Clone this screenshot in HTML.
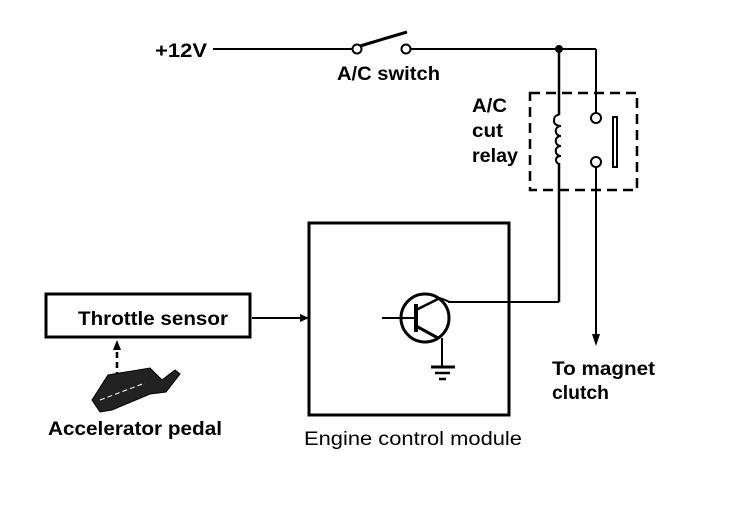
<!DOCTYPE html>
<html><head><style>
html,body{margin:0;padding:0;background:#fff;}
svg{display:block}
text{font-family:"Liberation Sans",sans-serif;fill:#000;}
.b{font-weight:bold}
</style></head><body>
<svg width="736" height="518" viewBox="0 0 736 518">
<g stroke="#000" fill="none" stroke-width="2">
<line x1="213" y1="49" x2="353" y2="49"/>
<circle cx="357" cy="49" r="4.5"/>
<line x1="360" y1="46" x2="407" y2="32" stroke-width="3"/>
<circle cx="406" cy="49" r="4.5"/>
<line x1="411" y1="49" x2="596" y2="49"/>
<line x1="596" y1="49" x2="596" y2="112"/>
<circle cx="596" cy="118" r="5"/>
<circle cx="596" cy="162" r="5"/>
<line x1="596" y1="167" x2="596" y2="335"/>
<rect x="613" y="117" width="4" height="50" stroke-width="2"/>
<line x1="559" y1="49" x2="559" y2="115" stroke-width="2.5"/>
<path d="M559 115 c-5 0 -5 4 -5 6 c0 3 3 5 7 5 c-7 0 -7 10 0 10 c-7 0 -7 10 0 10 c-7 0 -7 10 0 10 c-4 0 -5 2 -5 4 c0 3 3 4 3 4" stroke-width="2"/>
<line x1="559" y1="163" x2="559" y2="302" stroke-width="2.5"/>
<line x1="448" y1="302" x2="559" y2="302"/>
<rect x="530" y="93" width="107" height="97" stroke-dasharray="10,6" stroke-width="2.5"/>
<rect x="309" y="223" width="200" height="192" stroke-width="3"/>
<rect x="46" y="294" width="204" height="43" stroke-width="3"/>
<line x1="252" y1="318" x2="300" y2="318"/>
<circle cx="425" cy="318" r="24" stroke-width="3"/>
<line x1="382" y1="318" x2="416" y2="318"/>
<line x1="416" y1="304" x2="416" y2="332" stroke-width="4"/>
<line x1="416" y1="310" x2="440" y2="298" stroke-width="2.5"/>
<line x1="416" y1="326" x2="438" y2="338" stroke-width="3"/>
<line x1="440" y1="298" x2="450" y2="302"/>
<line x1="442" y1="338" x2="442" y2="367"/>
<line x1="431" y1="367" x2="455" y2="367" stroke-width="3"/>
<line x1="435" y1="373" x2="450" y2="373" stroke-width="2.5"/>
<line x1="439" y1="379" x2="446" y2="379" stroke-width="2.5"/>
<line x1="117" y1="388" x2="117" y2="350" stroke-dasharray="6,4" stroke-width="2.5"/>
</g>
<circle cx="559" cy="49" r="4" fill="#000"/>
<polygon points="300,314 309,318 300,322" fill="#000"/>
<polygon points="592,334 600,334 596,346" fill="#000"/>
<polygon points="113,350 121,350 117,340" fill="#000"/>
<g fill="#000" stroke="#000" stroke-width="1">
<path d="M92 400 L108 375 L150 368 L162 380 L175 370 L180 374 L166 392 L150 394 L112 410 L100 412 Z" fill="#222"/>
<path d="M100 400 L145 383" stroke="#fff" stroke-dasharray="5,3"/>
</g>
<text x="155" y="57" font-size="19" class="b" textLength="52" lengthAdjust="spacingAndGlyphs">+12V</text>
<text x="337" y="80" font-size="19" class="b" textLength="103" lengthAdjust="spacingAndGlyphs">A/C switch</text>
<text x="472" y="112" font-size="19" class="b" textLength="35" lengthAdjust="spacingAndGlyphs">A/C</text>
<text x="472" y="137" font-size="19" class="b" textLength="31" lengthAdjust="spacingAndGlyphs">cut</text>
<text x="472" y="162" font-size="19" class="b" textLength="46" lengthAdjust="spacingAndGlyphs">relay</text>
<text x="78" y="325" font-size="19" class="b" textLength="150" lengthAdjust="spacingAndGlyphs">Throttle sensor</text>
<text x="48" y="435" font-size="19" class="b" textLength="174" lengthAdjust="spacingAndGlyphs">Accelerator pedal</text>
<text x="304" y="445" font-size="19" textLength="218" lengthAdjust="spacingAndGlyphs">Engine control module</text>
<text x="552" y="375" font-size="19" class="b" textLength="103" lengthAdjust="spacingAndGlyphs">To magnet</text>
<text x="552" y="399" font-size="19" class="b" textLength="57" lengthAdjust="spacingAndGlyphs">clutch</text>
</svg>
</body></html>
